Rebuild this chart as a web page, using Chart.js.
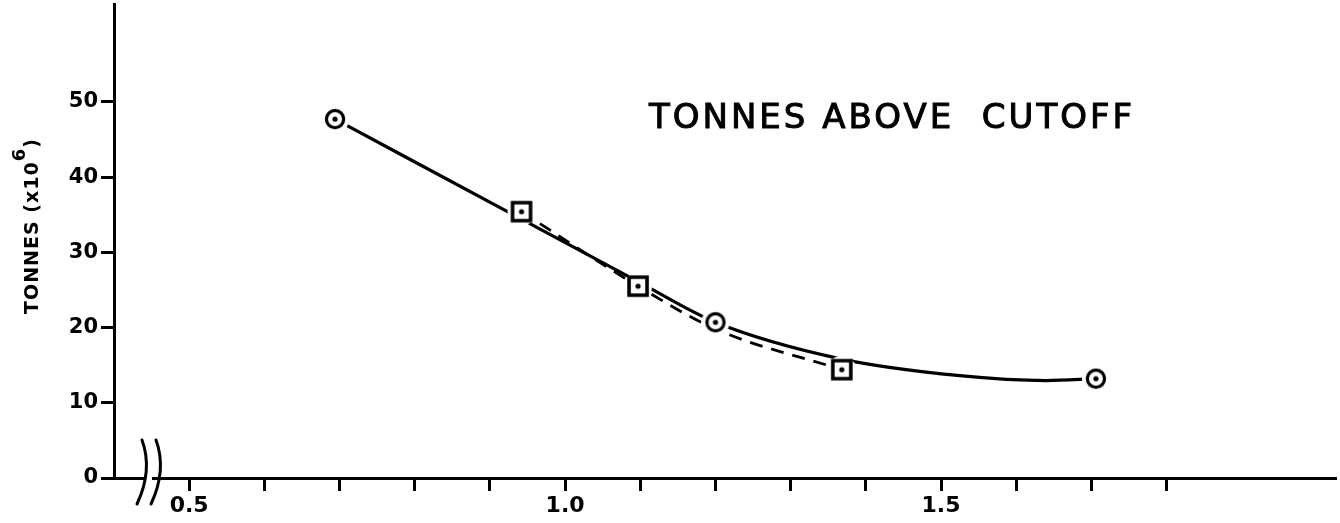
<!DOCTYPE html>
<html>
<head>
<meta charset="utf-8">
<title>Tonnes above cutoff</title>
<script src="https://cdn.jsdelivr.net/npm/chart.js@4.4.1/dist/chart.umd.min.js"></script>
<style>
  html, body { margin: 0; padding: 0; background: #fff; }
  #wrap { width: 1340px; height: 523px; }
</style>
</head>
<body>
<div id="wrap"><canvas id="tonnesChart" width="1340" height="523"></canvas></div>
<script>
// values
const circleX = [0.694, 1.2, 1.706];
const circleY = [47.7, 20.7, 13.2];
const squareX = [0.942, 1.097, 1.368];
const squareY = [35.4, 25.5, 14.4];

// solid curve
const solidX = [0.694, 0.942, 1.097, 1.2, 1.368, 1.525, 1.64, 1.706];
const solidY = [47.7, 34.4, 26.1, 20.7, 15.8, 13.6, 12.95, 13.2];

// dashed curve
const dashX = [0.942, 1.097, 1.2, 1.368];
const dashY = [35.4, 25.5, 19.8, 14.4];

const xTickValues = [0.5, 0.6, 0.7, 0.8, 0.9, 1.0, 1.1, 1.2, 1.3, 1.4, 1.5, 1.6, 1.7, 1.8];
const xTickLabels = ["0.5", "1.0", "1.5"];
const yTickValues = [0, 10, 20, 30, 40, 50];

const chartTitle = "TONNES ABOVE  CUTOFF";
const yTitleParts = ["TONNES (x10", "6", ")"];

function toPoints(xs, ys) {
  return xs.map((x, i) => ({ x: x, y: ys[i] }));
}

// marker glyphs: ring / box with a dot in the middle
function makeMarker(kind) {
  const c = document.createElement("canvas");
  c.width = 32;
  c.height = 32;
  const g = c.getContext("2d");
  g.fillStyle = "#fff";
  g.beginPath();
  g.arc(16, 16, 14, 0, Math.PI * 2);
  g.fill();
  g.strokeStyle = "#000";
  g.beginPath();
  if (kind === "circle") {
    g.lineWidth = 3.2;
    g.arc(16, 16, 8.6, 0, Math.PI * 2);
  } else {
    g.lineWidth = 3.6;
    g.rect(7, 7, 18, 18);
  }
  g.stroke();
  g.fillStyle = "#000";
  g.beginPath();
  g.arc(16, 16, 2.6, 0, Math.PI * 2);
  g.fill();
  return c;
}

const circleImg = makeMarker("circle");
const squareImg = makeMarker("square");

const decorPlugin = {
  id: "decor",
  afterDraw(chart) {
    const ctx = chart.ctx;
    ctx.save();
    ctx.fillStyle = "#000";
    ctx.strokeStyle = "#000";

    // chart title
    ctx.font = "34px 'DejaVu Sans'";
    ctx.letterSpacing = "3px";
    ctx.textAlign = "center";
    ctx.textBaseline = "alphabetic";
    ctx.lineWidth = 1;
    ctx.fillText(chartTitle, 892, 128);
    ctx.strokeText(chartTitle, 892, 128);
    ctx.letterSpacing = "0px";

    // rotated y title with superscript
    ctx.translate(38, 226);
    ctx.rotate(-Math.PI / 2);
    ctx.textAlign = "left";
    const mainFont = "bold 19px 'DejaVu Sans'";
    const supFont = "bold 18px 'DejaVu Sans'";
    ctx.letterSpacing = "1px";
    ctx.font = mainFont;
    const w1 = ctx.measureText(yTitleParts[0]).width;
    const w3 = ctx.measureText(yTitleParts[2]).width;
    ctx.font = supFont;
    const w2 = ctx.measureText(yTitleParts[1]).width;
    let x0 = -(w1 + w2 + w3) / 2;
    ctx.font = mainFont;
    ctx.fillText(yTitleParts[0], x0, 0);
    ctx.font = supFont;
    ctx.fillText(yTitleParts[1], x0 + w1, -13);
    ctx.font = mainFont;
    ctx.fillText(yTitleParts[2], x0 + w1 + w2, 0);
    ctx.restore();

    // axis break marks on the x axis
    ctx.save();
    ctx.fillStyle = "#fff";
    ctx.fillRect(144, 473, 8, 10);
    ctx.strokeStyle = "#000";
    ctx.lineWidth = 3;
    ctx.lineCap = "round";
    [0, 14].forEach((dx) => {
      ctx.beginPath();
      ctx.moveTo(142 + dx, 440);
      ctx.quadraticCurveTo(153 + dx, 470, 137 + dx, 504);
      ctx.stroke();
    });
    ctx.restore();
  },
};

const ctx = document.getElementById("tonnesChart").getContext("2d");

const tonnesChart = new Chart(ctx, {
  type: "scatter",
  data: {
    datasets: [
      {
        label: "circles",
        data: toPoints(circleX, circleY),
        showLine: false,
        pointStyle: circleImg,
        pointRadius: 10,
      },
      {
        label: "squares",
        data: toPoints(squareX, squareY),
        showLine: false,
        pointStyle: squareImg,
        pointRadius: 10,
      },
      {
        label: "solid",
        data: toPoints(solidX, solidY),
        showLine: true,
        borderColor: "#000",
        borderWidth: 3.2,
        pointRadius: 0,
        cubicInterpolationMode: "monotone",
        fill: false,
      },
      {
        label: "dashed",
        data: toPoints(dashX, dashY),
        showLine: true,
        borderColor: "#000",
        borderWidth: 2.8,
        borderDash: [13, 9],
        pointRadius: 0,
        cubicInterpolationMode: "monotone",
        fill: false,
      },
    ],
  },
  options: {
    responsive: false,
    animation: false,
    devicePixelRatio: 1,
    layout: {
      autoPadding: false,
      padding: { top: 4, right: 5, left: 0, bottom: 0 },
    },
    scales: {
      x: {
        type: "linear",
        position: "bottom",
        min: 0.4,
        max: 2.024,
        afterBuildTicks: (scale) => {
          scale.ticks = xTickValues.map((v) => ({ value: v }));
        },
        afterFit: (scale) => {
          scale.height = 45;
          scale.paddingLeft = 0;
          scale.paddingRight = 0;
        },
        border: { display: true, color: "#000", width: 3 },
        grid: {
          display: true,
          drawOnChartArea: false,
          drawTicks: true,
          tickLength: 13,
          lineWidth: 3,
          color: "#000",
        },
        ticks: {
          autoSkip: false,
          maxRotation: 0,
          padding: 2,
          color: "#000",
          font: { family: "DejaVu Sans", weight: "bold", size: 22 },
          callback: (value) => {
            const s = Number(value).toFixed(1);
            return xTickLabels.includes(s) ? s : "";
          },
        },
      },
      y: {
        type: "linear",
        min: 0,
        max: 63,
        afterBuildTicks: (scale) => {
          scale.ticks = yTickValues.map((v) => ({ value: v }));
        },
        afterFit: (scale) => {
          scale.width = 114;
          scale.paddingTop = 0;
          scale.paddingBottom = 0;
        },
        border: { display: true, color: "#000", width: 3 },
        grid: {
          display: true,
          drawOnChartArea: false,
          drawTicks: true,
          tickLength: 13,
          lineWidth: 3,
          color: "#000",
        },
        ticks: {
          autoSkip: false,
          padding: 3,
          color: "#000",
          font: { family: "DejaVu Sans", weight: "bold", size: 21 },
        },
      },
    },
    plugins: {
      legend: { display: false },
      tooltip: { enabled: false },
      title: { display: false },
    },
  },
  plugins: [decorPlugin],
});
</script>
</body>
</html>
